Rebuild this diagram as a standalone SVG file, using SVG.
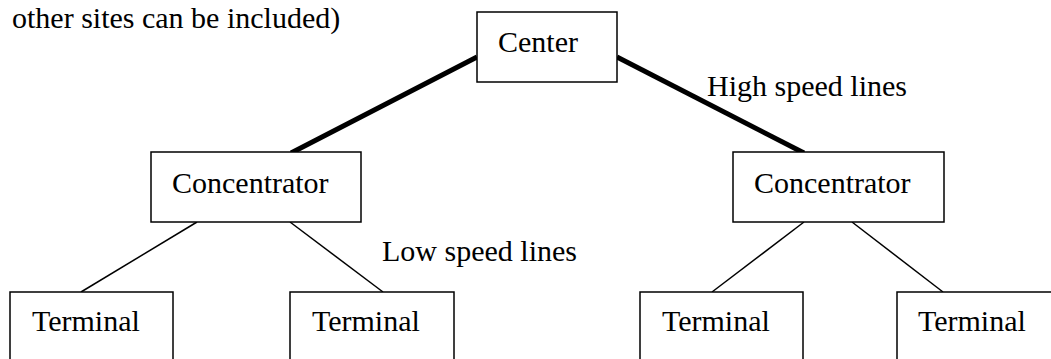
<svg xmlns="http://www.w3.org/2000/svg" width="1051" height="359" viewBox="0 0 1051 359">
<style>
.box{fill:#fff;stroke:#000;stroke-width:1.5}
.t{font-family:"Liberation Serif","Times New Roman",serif;font-size:30px;fill:#000}
.thick{stroke:#000;stroke-width:5;fill:none}
.thin{stroke:#000;stroke-width:1.5;fill:none}
</style>
<rect width="1051" height="359" fill="#fff"/>
<text class="t" x="12" y="28">other sites can be included)</text>
<g id="connectors">
<line class="thick" x1="477" y1="57" x2="291" y2="153"/>
<line class="thick" x1="617" y1="57" x2="804" y2="153"/>
<line class="thin" x1="197" y1="222" x2="81" y2="292"/>
<line class="thin" x1="290" y1="222" x2="383" y2="292"/>
<line class="thin" x1="804" y1="222" x2="712" y2="292"/>
<line class="thin" x1="852" y1="222" x2="943" y2="292"/>
<text class="t" x="707" y="96">High speed lines</text>
<text class="t" x="382" y="261">Low speed lines</text>
</g>
<g id="center"><rect class="box" x="477" y="12" width="140" height="70"/><text class="t" x="498" y="52">Center</text></g>
<g id="conc-left"><rect class="box" x="151" y="152" width="210" height="70"/><text class="t" x="172" y="193">Concentrator</text></g>
<g id="conc-right"><rect class="box" x="733" y="152" width="211" height="70"/><text class="t" x="754" y="193">Concentrator</text></g>
<g id="term1"><rect class="box" x="10" y="292" width="163" height="90"/><text class="t" x="32" y="331">Terminal</text></g>
<g id="term2"><rect class="box" x="290" y="292" width="164" height="90"/><text class="t" x="312" y="331">Terminal</text></g>
<g id="term3"><rect class="box" x="640" y="292" width="163" height="90"/><text class="t" x="662" y="331">Terminal</text></g>
<g id="term4"><rect class="box" x="897" y="292" width="170" height="90"/><text class="t" x="918" y="331">Terminal</text></g>
</svg>
